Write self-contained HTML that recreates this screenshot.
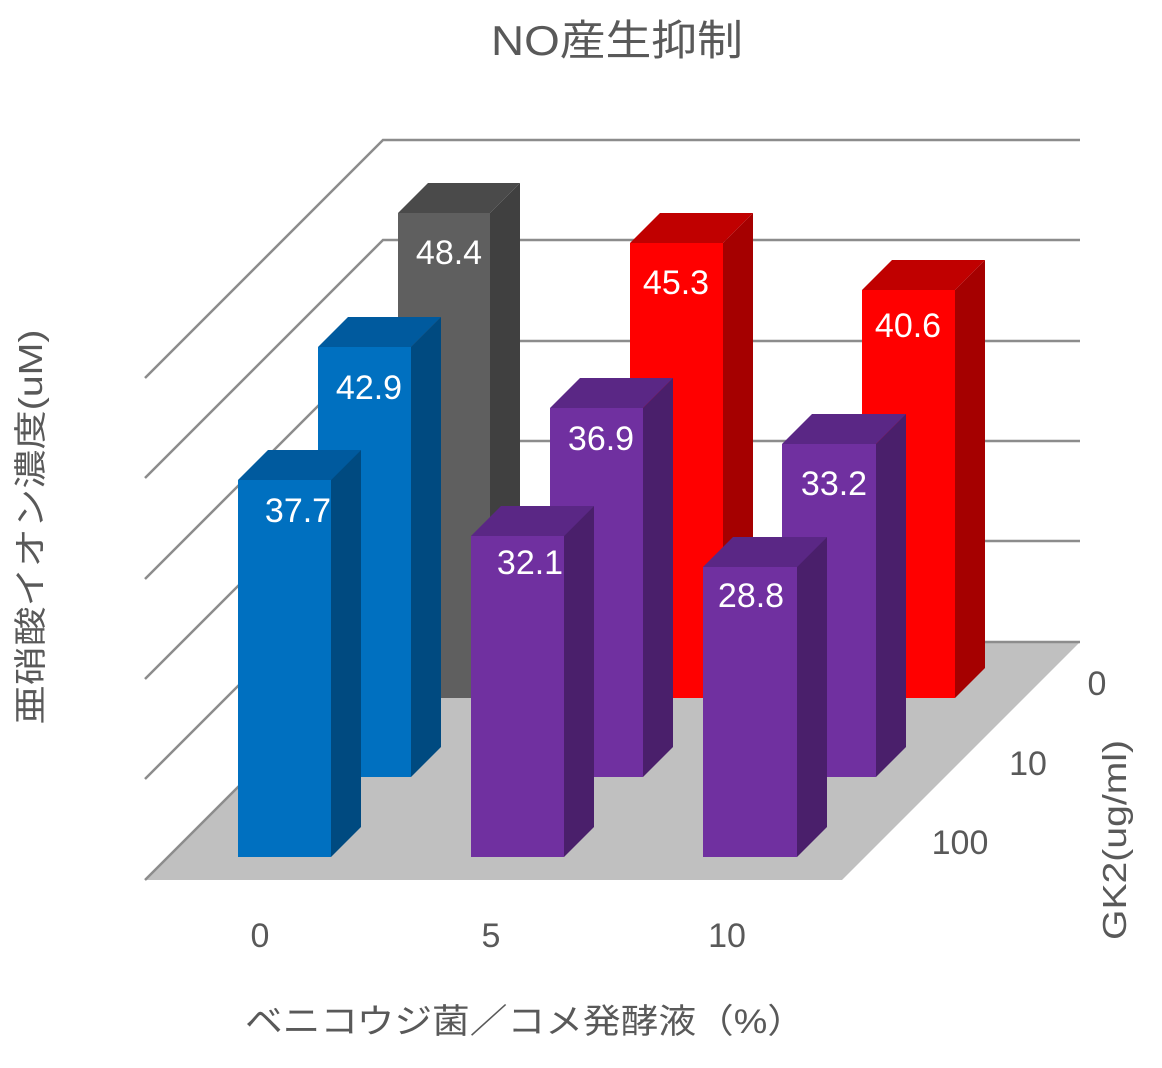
<!DOCTYPE html>
<html><head><meta charset="utf-8"><style>
html,body{margin:0;padding:0;background:#fff}
svg{display:block}
text{font-family:"Liberation Sans","Noto Sans CJK JP",sans-serif;fill:#595959}
.v{fill:#fff;font-size:34px;text-anchor:middle}
</style></head><body>
<svg width="1162" height="1068" viewBox="0 0 1162 1068" xmlns="http://www.w3.org/2000/svg">
<text x="617" y="55" font-size="42" text-anchor="middle" textLength="252" lengthAdjust="spacingAndGlyphs">NO産生抑制</text>
<polygon points="383,642 1080,642 842,880 145,880" fill="#c0c0c0"/>
<g stroke="#8c8c8c" stroke-width="2.5" fill="none">
<polyline points="145,378 383,140 1080,140"/>
<polyline points="145,478 383,240 1080,240"/>
<polyline points="145,579 383,341 1080,341"/>
<polyline points="145,679 383,441 1080,441"/>
<polyline points="145,779 383,541 1080,541"/>
<polyline points="145,880 383,642 1080,642"/>
</g>
<g>
<polygon points="398,213 428,183 520,183 490,213" fill="#4a4a4a"/>
<polygon points="490,213 520,183 520,668 490,698" fill="#404040"/>
<rect x="398" y="213" width="92" height="485" fill="#5f5f5f"/>
<text class="v" x="449" y="264">48.4</text>
<polygon points="630,243 660,213 753,213 723,243" fill="#c00000"/>
<polygon points="723,243 753,213 753,668 723,698" fill="#a50000"/>
<rect x="630" y="243" width="93" height="455" fill="#ff0000"/>
<text class="v" x="676" y="294">45.3</text>
<polygon points="862,290 892,260 985,260 955,290" fill="#c00000"/>
<polygon points="955,290 985,260 985,668 955,698" fill="#a50000"/>
<rect x="862" y="290" width="93" height="408" fill="#ff0000"/>
<text class="v" x="908" y="337">40.6</text>
</g>
<g>
<polygon points="318,347 348,317 441,317 411,347" fill="#005a9e"/>
<polygon points="411,347 441,317 441,747 411,777" fill="#004a80"/>
<rect x="318" y="347" width="93" height="430" fill="#0070c0"/>
<text class="v" x="369" y="399">42.9</text>
<polygon points="550,408 580,378 673,378 643,408" fill="#5a2785"/>
<polygon points="643,408 673,378 673,747 643,777" fill="#4a1f6b"/>
<rect x="550" y="408" width="93" height="369" fill="#7030a0"/>
<text class="v" x="601" y="450">36.9</text>
<polygon points="782,444 812,414 906,414 876,444" fill="#5a2785"/>
<polygon points="876,444 906,414 906,747 876,777" fill="#4a1f6b"/>
<rect x="782" y="444" width="94" height="333" fill="#7030a0"/>
<text class="v" x="834" y="495">33.2</text>
</g>
<g>
<polygon points="238,480 268,450 361,450 331,480" fill="#005a9e"/>
<polygon points="331,480 361,450 361,827 331,857" fill="#004a80"/>
<rect x="238" y="480" width="93" height="377" fill="#0070c0"/>
<text class="v" x="298" y="522">37.7</text>
<polygon points="471,536 501,506 594,506 564,536" fill="#5a2785"/>
<polygon points="564,536 594,506 594,827 564,857" fill="#4a1f6b"/>
<rect x="471" y="536" width="93" height="321" fill="#7030a0"/>
<text class="v" x="530" y="574">32.1</text>
<polygon points="703,567 733,537 827,537 797,567" fill="#5a2785"/>
<polygon points="797,567 827,537 827,827 797,857" fill="#4a1f6b"/>
<rect x="703" y="567" width="94" height="290" fill="#7030a0"/>
<text class="v" x="751" y="607">28.8</text>
</g>
<g font-size="34">
<text x="260" y="947" text-anchor="middle">0</text>
<text x="491" y="947" text-anchor="middle">5</text>
<text x="727" y="947" text-anchor="middle">10</text>
<text x="1097" y="695" text-anchor="middle">0</text>
<text x="1028" y="775" text-anchor="middle">10</text>
<text x="960" y="854" text-anchor="middle">100</text>
</g>
<text x="525" y="1033" font-size="34" text-anchor="middle" textLength="560" lengthAdjust="spacingAndGlyphs">ベニコウジ菌／コメ発酵液（%）</text>
<text transform="translate(42,527) rotate(-90)" font-size="33" text-anchor="middle" textLength="395" lengthAdjust="spacingAndGlyphs">亜硝酸イオン濃度(uM)</text>
<text transform="translate(1126,840) rotate(-90)" font-size="33" text-anchor="middle" textLength="200" lengthAdjust="spacingAndGlyphs">GK2(ug/ml)</text>
</svg>
</body></html>
